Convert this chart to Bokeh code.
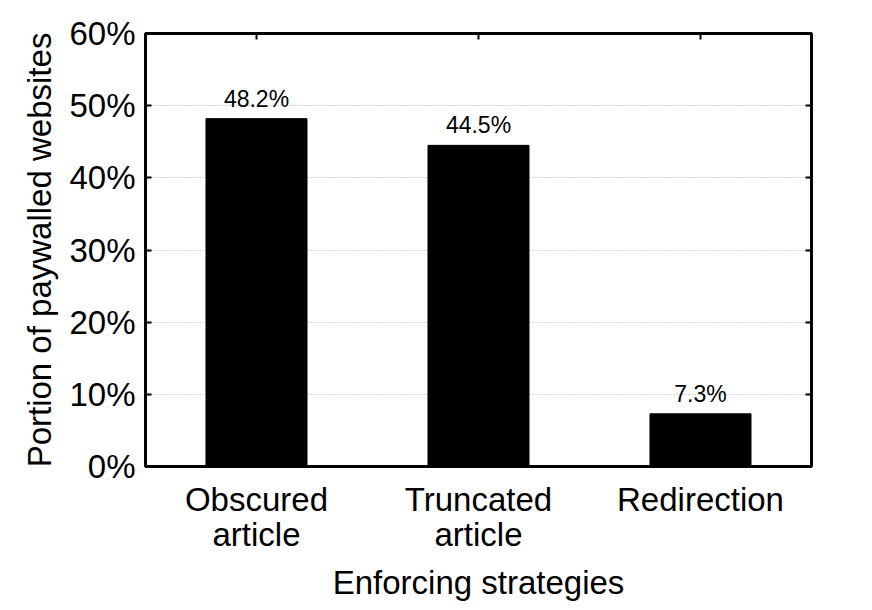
from bokeh.plotting import figure
from bokeh.models import ColumnDataSource, FactorRange, Range1d, LinearAxis, CategoricalAxis, PrintfTickFormatter, FixedTicker
from bokeh.core.properties import value
from bokeh.embed import file_html
from bokeh.resources import INLINE

categories = ["Obscured\narticle", "Truncated\narticle", "Redirection"]
portions = [48.2, 44.5, 7.3]
bar_labels = [f"{v:.1f}%" for v in portions]
y_ticks = [0, 10, 20, 30, 40, 50, 60]

FONT = "Liberation Sans"

src = ColumnDataSource(dict(cat=categories, val=portions, lab=bar_labels))

p = figure(width=856, height=604, x_range=FactorRange(*categories),
           y_range=Range1d(0, 60), output_backend="svg", toolbar_location=None,
           min_border_left=145, min_border_right=45, min_border_top=33,
           min_border_bottom=120)
p.background_fill_color = "white"
p.border_fill_color = "white"
p.outline_line_color = "black"
p.outline_line_width = 3

p.vbar(x="cat", top="val", width=0.455, source=src, fill_color="black", line_color="black")
p.text(x="cat", y="val", text="lab", source=src, text_align="center", text_baseline="bottom",
       y_offset=-7, text_font=value(FONT), text_font_size="23px", text_color="black")

p.xgrid.grid_line_color = None
p.ygrid.ticker = FixedTicker(ticks=y_ticks)
p.ygrid.grid_line_color = "#b0b0b0"
p.ygrid.grid_line_dash = "1 2"
p.ygrid.grid_line_width = 1

yax = p.yaxis[0]
yax.ticker = FixedTicker(ticks=y_ticks)
yax.formatter = PrintfTickFormatter(format="%d%%")
yax.axis_label = "Portion of paywalled websites"
for ax in [yax, p.xaxis[0]]:
    ax.axis_line_color = None
    ax.major_tick_in = 6
    ax.major_tick_out = 0
    ax.minor_tick_line_color = None
    ax.major_tick_line_color = "black"
    ax.major_tick_line_width = 2
    ax.major_label_text_font = FONT
    ax.major_label_text_font_size = "33px"
    ax.major_label_text_color = "black"
    ax.axis_label_text_font = FONT
    ax.axis_label_text_font_size = "33px"
    ax.axis_label_text_font_style = "normal"
    ax.axis_label_text_color = "black"
yax.major_label_standoff = 10
yax.axis_label_standoff = 8

xax = p.xaxis[0]
xax.axis_label = "Enforcing strategies"
xax.major_label_standoff = 14
xax.axis_label_standoff = 8
xax.major_label_text_line_height = 0.97

# mirrored ticks (right and top), without labels
rax = LinearAxis(ticker=FixedTicker(ticks=y_ticks), axis_line_color=None,
                 major_tick_in=6, major_tick_out=0, minor_tick_line_color=None,
                 major_tick_line_width=2,
                 major_label_overrides={t: "" for t in y_ticks})
p.add_layout(rax, "right")
tax = CategoricalAxis(axis_line_color=None, major_tick_in=6, major_tick_out=0,
                      major_tick_line_width=2, major_label_text_color=None,
                      major_label_text_font_size="10px")
p.add_layout(tax, "above")

open("out.html", "w").write(file_html(p, INLINE))
